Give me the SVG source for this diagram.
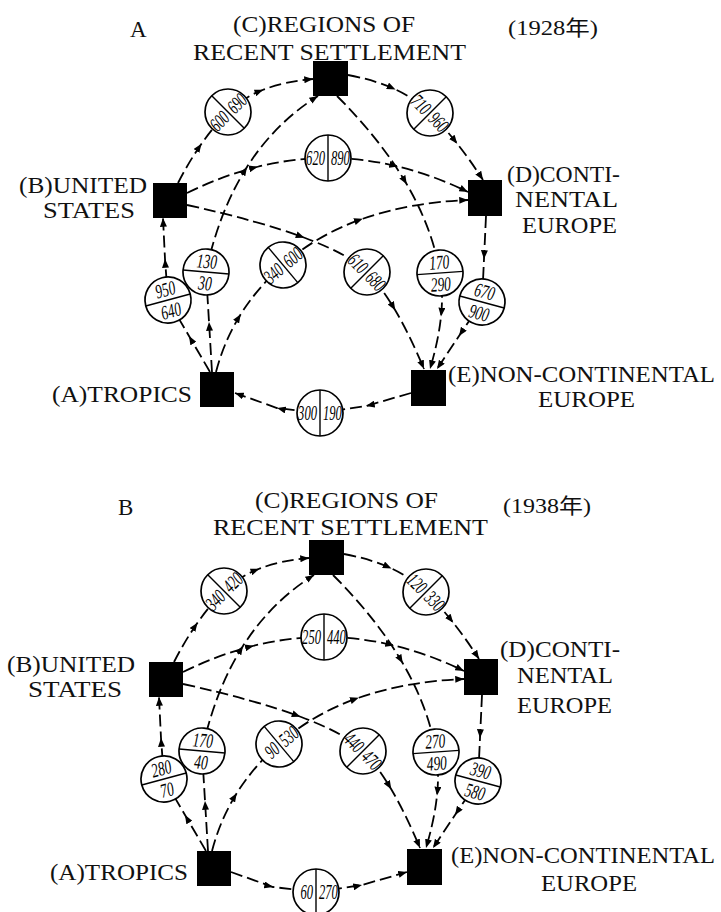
<svg xmlns="http://www.w3.org/2000/svg" width="721" height="912" viewBox="0 0 721 912">
<style>
.bg{fill:#fff}
.sq{fill:#000}
.lbl{font-family:"Liberation Serif","Noto Sans CJK JP",serif;font-size:23px;fill:#111}
.yr{font-family:"Liberation Serif","Noto Sans CJK JP",serif;font-size:21px;fill:#111}
.cir circle{fill:#fff;stroke:#000;stroke-width:1.7}
.cir line{stroke:#000;stroke-width:1.4}
.cir text{font-family:"Liberation Serif",serif;font-size:20px;font-style:italic;fill:#000}
.l{text-anchor:end}
.m{text-anchor:middle}
.con{fill:none;stroke:#000;stroke-width:1.8;stroke-dasharray:12 5;marker-mid:url(#ah);marker-end:url(#ah)}
</style>
<defs>
<marker id="ah" viewBox="0 0 10 8" refX="10" refY="4" markerWidth="9" markerHeight="7" markerUnits="userSpaceOnUse" orient="auto"><path d="M0,0 L10,4 L0,8 z" fill="#000"/></marker>
</defs>
<rect class="bg" x="0" y="0" width="721" height="912"/>

<!-- ===== 1928 ===== -->
<text class="lbl" x="130" y="37">A</text>
<text class="yr" x="508" y="35" textLength="90" lengthAdjust="spacingAndGlyphs">(1928年)</text>

<g id="connectors-1928">
<path class="con" d="M178,183 Q189,161.5 201.5,143.75 Q214,126 228,112 Q242,98 263.25,89.75 Q284.5,81.5 313,79"/>
<path class="con" d="M348,75 Q375,80 395.5,89.5 Q416,99 430,113 Q444,127 457.25,143.75 Q470.5,160.5 483,180"/>
<path class="con" d="M187,193 Q222.5,175.5 257.75,166.75 Q293,158 328,158 Q363,158 398,166.5 Q433,175 468,192"/>
<path class="con" d="M187,205 Q259.5,221 304.5,237.75 Q349.5,254.5 367,272 Q381,286 395.25,310.25 Q409.5,334.5 424,369"/>
<path class="con" d="M337,96 Q381,140 406.75,184.25 Q432.5,228.5 440,273 Q443.5,292.5 441,316.5 Q438.5,340.5 430,369"/>
<path class="con" d="M486,216 L484,259 L482,302 L459,336 L437,369"/>
<path class="con" d="M210,372 L189,336 L168,300 L165,259 L163,218"/>
<path class="con" d="M212,372 L209,322 L206,272 Q219,211 247,167 Q275,123 318,96"/>
<path class="con" d="M216,372 Q224,341 240.75,314.25 Q257.5,287.5 283,265 Q316.5,235 362.75,218.75 Q409,202.5 468,200"/>
<path class="con" d="M411,393 L366,406 L320,413 L277,408 L235,393"/>

<g class="cir" transform="translate(228,112) rotate(-45)"><circle r="23"/><line x1="0" y1="-23" x2="0" y2="23"/><g transform="scale(0.63,1)"><text class="l" x="-4.8" y="7">600</text><text x="4.8" y="7">690</text></g></g>
<g class="cir" transform="translate(430,113) rotate(45)"><circle r="23"/><line x1="0" y1="-23" x2="0" y2="23"/><g transform="scale(0.63,1)"><text class="l" x="-4.8" y="7">710</text><text x="4.8" y="7">960</text></g></g>
<g class="cir" transform="translate(328,158)"><circle r="23"/><line x1="0" y1="-23" x2="0" y2="23"/><g transform="scale(0.63,1)"><text class="l" x="-4.8" y="7">620</text><text x="4.8" y="7">890</text></g></g>
<g class="cir" transform="translate(367,272) rotate(45)"><circle r="23"/><line x1="0" y1="-23" x2="0" y2="23"/><g transform="scale(0.63,1)"><text class="l" x="-4.8" y="7">610</text><text x="4.8" y="7">680</text></g></g>
<g class="cir" transform="translate(440,273) rotate(-4)"><circle r="23"/><line x1="-23" y1="0" x2="23" y2="0"/><g transform="scale(0.67,1)"><text class="m" x="0" y="-4">170</text><text class="m" x="0" y="18">290</text></g></g>
<g class="cir" transform="translate(482,302) rotate(15)"><circle r="23"/><line x1="-23" y1="0" x2="23" y2="0"/><g transform="scale(0.67,1)"><text class="m" x="0" y="-4">670</text><text class="m" x="0" y="18">900</text></g></g>
<g class="cir" transform="translate(168,300) rotate(-15)"><circle r="23"/><line x1="-23" y1="0" x2="23" y2="0"/><g transform="scale(0.67,1)"><text class="m" x="0" y="-4">950</text><text class="m" x="0" y="18">640</text></g></g>
<g class="cir" transform="translate(206,272) rotate(5)"><circle r="23"/><line x1="-23" y1="0" x2="23" y2="0"/><g transform="scale(0.67,1)"><text class="m" x="0" y="-4">130</text><text class="m" x="0" y="18">30</text></g></g>
<g class="cir" transform="translate(283,265) rotate(-40)"><circle r="23"/><line x1="0" y1="-23" x2="0" y2="23"/><g transform="scale(0.63,1)"><text class="l" x="-4.8" y="7">340</text><text x="4.8" y="7">600</text></g></g>
<g class="cir" transform="translate(320,413)"><circle r="23"/><line x1="0" y1="-23" x2="0" y2="23"/><g transform="scale(0.63,1)"><text class="l" x="-4.8" y="7">300</text><text x="4.8" y="7">190</text></g></g>
</g>

<g id="nodeC-1928"><rect class="sq" x="313" y="61" width="35" height="35"/>
<text class="lbl" x="233" y="32" textLength="182" lengthAdjust="spacingAndGlyphs">(C)REGIONS OF</text>
<text class="lbl" x="193" y="60" textLength="273" lengthAdjust="spacingAndGlyphs">RECENT SETTLEMENT</text></g>
<g id="nodeB-1928"><rect class="sq" x="153" y="183" width="34" height="35"/>
<text class="lbl" x="19" y="193" textLength="128" lengthAdjust="spacingAndGlyphs">(B)UNITED</text>
<text class="lbl" x="43" y="218" textLength="92" lengthAdjust="spacingAndGlyphs">STATES</text></g>
<g id="nodeD-1928"><rect class="sq" x="468" y="180" width="34" height="36"/>
<text class="lbl" x="507" y="182" textLength="113" lengthAdjust="spacingAndGlyphs">(D)CONTI-</text>
<text class="lbl" x="515" y="207" textLength="103" lengthAdjust="spacingAndGlyphs">NENTAL</text>
<text class="lbl" x="522" y="233" textLength="95" lengthAdjust="spacingAndGlyphs">EUROPE</text></g>
<g id="nodeA-1928"><rect class="sq" x="200" y="372" width="34" height="35"/>
<text class="lbl" x="52" y="402" textLength="140" lengthAdjust="spacingAndGlyphs">(A)TROPICS</text></g>
<g id="nodeE-1928"><rect class="sq" x="411" y="370" width="35" height="36"/>
<text class="lbl" x="448" y="382" textLength="267" lengthAdjust="spacingAndGlyphs">(E)NON-CONTINENTAL</text>
<text class="lbl" x="538" y="407" textLength="97" lengthAdjust="spacingAndGlyphs">EUROPE</text></g>

<!-- ===== 1938 ===== -->
<text class="lbl" x="118" y="515">B</text>
<text class="yr" x="503" y="513" textLength="88" lengthAdjust="spacingAndGlyphs">(1938年)</text>

<g id="connectors-1938" transform="translate(-4,479)">
<path class="con" d="M178,183 Q189,161.5 201.5,143.75 Q214,126 228,112 Q242,98 263.25,89.75 Q284.5,81.5 313,79"/>
<path class="con" d="M348,75 Q375,80 395.5,89.5 Q416,99 430,113 Q444,127 457.25,143.75 Q470.5,160.5 483,180"/>
<path class="con" d="M187,193 Q222.5,175.5 257.75,166.75 Q293,158 328,158 Q363,158 398,166.5 Q433,175 468,192"/>
<path class="con" d="M187,205 Q259.5,221 304.5,237.75 Q349.5,254.5 367,272 Q381,286 395.25,310.25 Q409.5,334.5 424,369"/>
<path class="con" d="M337,96 Q381,140 406.75,184.25 Q432.5,228.5 440,273 Q443.5,292.5 441,316.5 Q438.5,340.5 430,369"/>
<path class="con" d="M486,216 L484,259 L482,302 L459,336 L437,369"/>
<path class="con" d="M210,372 L189,336 L168,300 L165,259 L163,218"/>
<path class="con" d="M212,372 L209,322 L206,272 Q219,211 247,167 Q275,123 318,96"/>
<path class="con" d="M216,372 Q224,341 240.75,314.25 Q257.5,287.5 283,265 Q316.5,235 362.75,218.75 Q409,202.5 468,200"/>
<path class="con" d="M235,393 L277,408 L320,413 L366,406 L411,393"/>

<g class="cir" transform="translate(228,112) rotate(-45)"><circle r="23"/><line x1="0" y1="-23" x2="0" y2="23"/><g transform="scale(0.63,1)"><text class="l" x="-4.8" y="7">340</text><text x="4.8" y="7">420</text></g></g>
<g class="cir" transform="translate(430,113) rotate(45)"><circle r="23"/><line x1="0" y1="-23" x2="0" y2="23"/><g transform="scale(0.63,1)"><text class="l" x="-4.8" y="7">120</text><text x="4.8" y="7">330</text></g></g>
<g class="cir" transform="translate(328,158)"><circle r="23"/><line x1="0" y1="-23" x2="0" y2="23"/><g transform="scale(0.63,1)"><text class="l" x="-4.8" y="7">250</text><text x="4.8" y="7">440</text></g></g>
<g class="cir" transform="translate(367,272) rotate(45)"><circle r="23"/><line x1="0" y1="-23" x2="0" y2="23"/><g transform="scale(0.63,1)"><text class="l" x="-4.8" y="7">440</text><text x="4.8" y="7">470</text></g></g>
<g class="cir" transform="translate(440,273) rotate(-4)"><circle r="23"/><line x1="-23" y1="0" x2="23" y2="0"/><g transform="scale(0.67,1)"><text class="m" x="0" y="-4">270</text><text class="m" x="0" y="18">490</text></g></g>
<g class="cir" transform="translate(482,302) rotate(15)"><circle r="23"/><line x1="-23" y1="0" x2="23" y2="0"/><g transform="scale(0.67,1)"><text class="m" x="0" y="-4">390</text><text class="m" x="0" y="18">580</text></g></g>
<g class="cir" transform="translate(168,300) rotate(-15)"><circle r="23"/><line x1="-23" y1="0" x2="23" y2="0"/><g transform="scale(0.67,1)"><text class="m" x="0" y="-4">280</text><text class="m" x="0" y="18">70</text></g></g>
<g class="cir" transform="translate(206,272) rotate(5)"><circle r="23"/><line x1="-23" y1="0" x2="23" y2="0"/><g transform="scale(0.67,1)"><text class="m" x="0" y="-4">170</text><text class="m" x="0" y="18">40</text></g></g>
<g class="cir" transform="translate(283,265) rotate(-40)"><circle r="23"/><line x1="0" y1="-23" x2="0" y2="23"/><g transform="scale(0.63,1)"><text class="l" x="-4.8" y="7">90</text><text x="4.8" y="7">530</text></g></g>
<g class="cir" transform="translate(320,413)"><circle r="23"/><line x1="0" y1="-23" x2="0" y2="23"/><g transform="scale(0.63,1)"><text class="l" x="-4.8" y="7">60</text><text x="4.8" y="7">270</text></g></g>
</g>

<g id="nodeC-1938"><rect class="sq" x="309" y="540" width="35" height="35"/>
<text class="lbl" x="255" y="508" textLength="183" lengthAdjust="spacingAndGlyphs">(C)REGIONS OF</text>
<text class="lbl" x="213" y="535" textLength="275" lengthAdjust="spacingAndGlyphs">RECENT SETTLEMENT</text></g>
<g id="nodeB-1938"><rect class="sq" x="149" y="662" width="34" height="35"/>
<text class="lbl" x="7" y="672" textLength="128" lengthAdjust="spacingAndGlyphs">(B)UNITED</text>
<text class="lbl" x="28" y="697" textLength="94" lengthAdjust="spacingAndGlyphs">STATES</text></g>
<g id="nodeD-1938"><rect class="sq" x="464" y="659" width="34" height="36"/>
<text class="lbl" x="500" y="657" textLength="120" lengthAdjust="spacingAndGlyphs">(D)CONTI-</text>
<text class="lbl" x="517" y="683" textLength="96" lengthAdjust="spacingAndGlyphs">NENTAL</text>
<text class="lbl" x="517" y="713" textLength="95" lengthAdjust="spacingAndGlyphs">EUROPE</text></g>
<g id="nodeA-1938"><rect class="sq" x="197" y="851" width="34" height="35"/>
<text class="lbl" x="50" y="880" textLength="138" lengthAdjust="spacingAndGlyphs">(A)TROPICS</text></g>
<g id="nodeE-1938"><rect class="sq" x="407" y="849" width="35" height="36"/>
<text class="lbl" x="451" y="863" textLength="264" lengthAdjust="spacingAndGlyphs">(E)NON-CONTINENTAL</text>
<text class="lbl" x="541" y="891" textLength="96" lengthAdjust="spacingAndGlyphs">EUROPE</text></g>
</svg>
